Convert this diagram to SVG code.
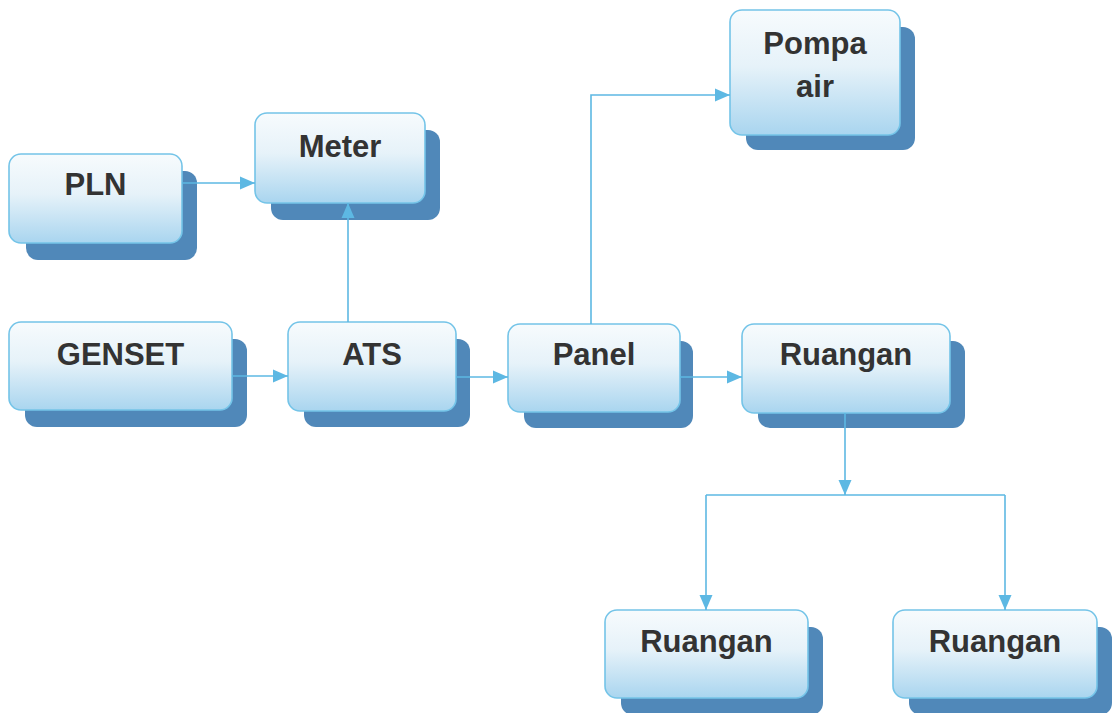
<svg xmlns="http://www.w3.org/2000/svg" width="1119" height="713" viewBox="0 0 1119 713">
  <defs>
    <linearGradient id="boxFill" x1="0" y1="0" x2="0" y2="1">
      <stop offset="0" stop-color="#f7fbfd"/>
      <stop offset="0.45" stop-color="#e6f2f9"/>
      <stop offset="1" stop-color="#a9d5ef"/>
    </linearGradient>
    <marker id="arrow" markerUnits="userSpaceOnUse" markerWidth="16" markerHeight="14" refX="15" refY="7" orient="auto">
      <path d="M0,0.5 L15,7 L0,13.5 Z" fill="#5db8e3"/>
    </marker>
    <style>
      .shadow { fill: #5088b9; }
      .box { fill: url(#boxFill); stroke: #74c4e8; stroke-width: 1.6; }
      .label { font-family: "Liberation Sans", Arial, sans-serif; font-weight: bold; font-size: 31px; fill: #333333; text-anchor: middle; }
      .link { fill: none; stroke: #5db8e3; stroke-width: 1.6; marker-end: url(#arrow); }
      .plain { fill: none; stroke: #5db8e3; stroke-width: 1.6; }
    </style>
  </defs>
  <rect width="1119" height="713" fill="#ffffff"/>

  <g id="node-pln">
    <rect class="shadow" x="26" y="171" width="171" height="89" rx="12"/>
    <rect class="box" x="9" y="154" width="173" height="89" rx="12"/>
    <text class="label" x="95.5" y="195">PLN</text>
  </g>

  <g id="node-meter">
    <rect class="shadow" x="271" y="130" width="169" height="90" rx="12"/>
    <rect class="box" x="255" y="113" width="170" height="90" rx="12"/>
    <text class="label" x="340" y="157">Meter</text>
  </g>

  <g id="node-genset">
    <rect class="shadow" x="25" y="339" width="222" height="88" rx="12"/>
    <rect class="box" x="9" y="322" width="223" height="88" rx="12"/>
    <text class="label" x="120.5" y="365">GENSET</text>
  </g>

  <g id="node-ats">
    <rect class="shadow" x="304" y="339" width="166" height="88" rx="12"/>
    <rect class="box" x="288" y="322" width="168" height="89" rx="12"/>
    <text class="label" x="372" y="365">ATS</text>
  </g>

  <g id="node-panel">
    <rect class="shadow" x="524" y="341" width="169" height="87" rx="12"/>
    <rect class="box" x="508" y="324" width="172" height="88" rx="12"/>
    <text class="label" x="594" y="365">Panel</text>
  </g>

  <g id="node-ruangan">
    <rect class="shadow" x="758" y="341" width="207" height="87" rx="12"/>
    <rect class="box" x="742" y="324" width="208" height="89" rx="12"/>
    <text class="label" x="846" y="365">Ruangan</text>
  </g>

  <g id="node-pompa-air">
    <rect class="shadow" x="746" y="27" width="169" height="123" rx="12"/>
    <rect class="box" x="730" y="10" width="170" height="125" rx="12"/>
    <text class="label" x="815" y="54">Pompa</text>
    <text class="label" x="815" y="97">air</text>
  </g>

  <g id="node-ruangan-kiri">
    <rect class="shadow" x="621" y="627" width="202" height="88" rx="12"/>
    <rect class="box" x="605" y="610" width="203" height="88" rx="12"/>
    <text class="label" x="706.5" y="652">Ruangan</text>
  </g>

  <g id="node-ruangan-kanan">
    <rect class="shadow" x="909" y="627" width="203" height="88" rx="12"/>
    <rect class="box" x="893" y="610" width="204" height="88" rx="12"/>
    <text class="label" x="995" y="652">Ruangan</text>
  </g>

  <g id="connectors">
    <path class="link" d="M182,183 L255,183"/>
    <path class="link" d="M348,322 L348,203"/>
    <path class="link" d="M232,376 L288,376"/>
    <path class="link" d="M456,377 L508,377"/>
    <path class="link" d="M680,377 L742,377"/>
    <path class="link" d="M591,324 L591,95 L730,95"/>
    <path class="link" d="M845,413 L845,495"/>
    <path class="plain" d="M706,495 L1005,495"/>
    <path class="link" d="M706,495 L706,610"/>
    <path class="link" d="M1005,495 L1005,610"/>
  </g>
</svg>
